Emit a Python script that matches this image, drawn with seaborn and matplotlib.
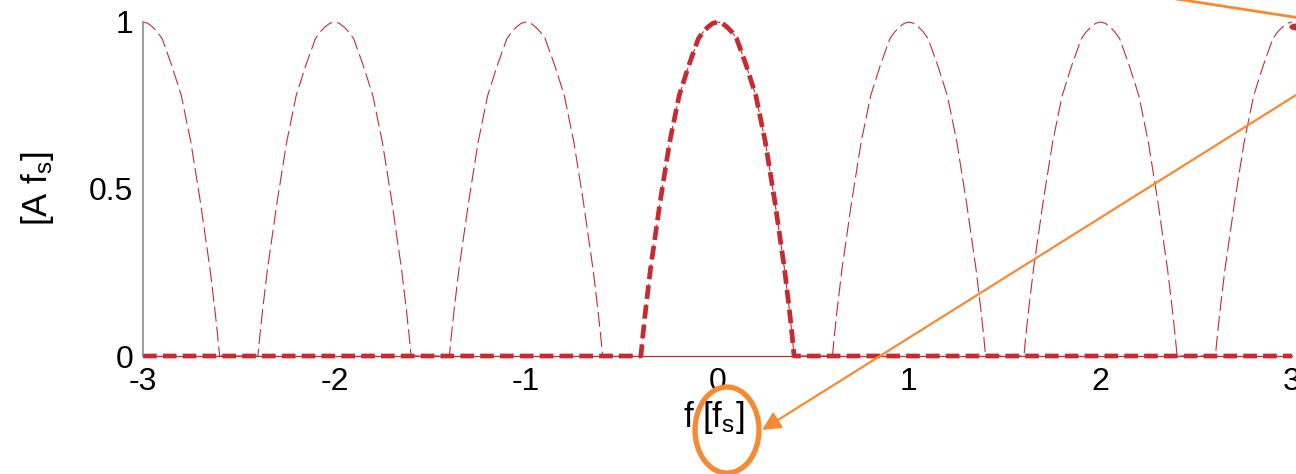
import matplotlib
matplotlib.use("Agg")
import matplotlib.pyplot as plt
from matplotlib.patches import Ellipse, Circle
import numpy as np
import pandas as pd
import seaborn as sns

# Half profile of one spectral lobe: distance from the lobe centre [f_s] and level [A f_s]
lobe_offset = [0.0, 0.025, 0.05, 0.075, 0.10, 0.15, 0.20, 0.25, 0.30, 0.35, 0.375, 0.39, 0.40]
lobe_level = [1.0, 0.996, 0.985, 0.97, 0.95, 0.87, 0.78, 0.64, 0.46, 0.26, 0.14, 0.06, 0.0]

# Centres of the periodic replicas of the sampled spectrum
replica_centres = [-3, -2, -1, 0, 1, 2, 3]
# Centre of the baseband lobe kept by the reconstruction filter
baseband_centre = 0

x_limits = [-3, 3]
x_ticks = [-3, -2, -1, 0, 1, 2, 3]
y_ticks = [0, 0.5, 1]
y_tick_labels = ["0", "0.5", "1"]


def lobe(centre):
    off = np.array(lobe_offset)
    lev = np.array(lobe_level)
    xs = np.concatenate([centre - off[::-1], centre + off[1:]])
    ys = np.concatenate([lev[::-1], lev[1:]])
    return xs, ys


# Periodic spectrum of the sampled signal
rep_x, rep_y = [], []
for c in replica_centres:
    xs, ys = lobe(c)
    keep = (xs >= x_limits[0]) & (xs <= x_limits[1])
    rep_x.extend(xs[keep])
    rep_y.extend(ys[keep])
replicas = pd.DataFrame({"f": rep_x, "A": rep_y})

# Baseband spectrum after ideal low-pass reconstruction
bx, by = lobe(baseband_centre)
base = pd.DataFrame({
    "f": np.concatenate([[x_limits[0]], bx, [x_limits[1]]]),
    "A": np.concatenate([[0.0], by, [0.0]]),
})

sns.set_theme(style="white")
plt.rcParams["font.family"] = ["Liberation Sans", "DejaVu Sans"]
plt.rcParams["mathtext.fontset"] = "custom"
plt.rcParams["mathtext.rm"] = "Liberation Sans"
plt.rcParams["mathtext.it"] = "Liberation Sans:italic"
plt.rcParams["mathtext.default"] = "regular"

fig = plt.figure(figsize=(12.96, 4.74), dpi=100)
ax = fig.add_axes([143 / 1296, 118 / 474, 1149 / 1296, 334 / 474])

red = "#c72b30"
orange = "#f58a32"

sns.lineplot(data=replicas, x="f", y="A", ax=ax, sort=False, estimator=None,
             color=red, lw=0.8, linestyle=(0, (13.5, 4.5)), clip_on=False)
sns.lineplot(data=base, x="f", y="A", ax=ax, sort=False, estimator=None,
             color=red, lw=3.4, linestyle=(0, (2.9, 1.3)), clip_on=False)

ax.set_xlim(*x_limits)
ax.set_ylim(0, 1)
ax.set_xticks(x_ticks)
ax.set_xticklabels([str(t) for t in x_ticks])
ax.set_yticks(y_ticks)
ax.set_yticklabels(y_tick_labels)
ax.tick_params(axis="both", direction="in", length=8, width=0.9, color="#262626",
               labelsize=23, labelcolor="black")
ax.tick_params(axis="x", pad=8)
ax.tick_params(axis="y", pad=7)

for side in ("top", "right"):
    ax.spines[side].set_visible(False)
ax.spines["left"].set_color("#808080")
ax.spines["left"].set_linewidth(1.1)
ax.spines["bottom"].set_color(red)
ax.spines["bottom"].set_linewidth(0.9)

ax.set_xlabel("f [f$_s$]", fontsize=25, color="black")
ax.set_ylabel("[A f$_s$]", fontsize=25, color="black")
ax.xaxis.set_label_coords(0.497, -0.13)
ax.yaxis.set_label_coords(-0.076, 0.5)

# Highlight of the unit in the axis label, with pointers from the side
fig.add_artist(Ellipse((727 / 1296, 1 - 430 / 474), 64 / 1296, 86 / 474,
                       transform=fig.transFigure, fill=False,
                       edgecolor=orange, lw=3.8))
ax.annotate("", xy=(762, 474 - 430), xycoords="figure pixels",
            xytext=(1320, 474 - 80), textcoords="figure pixels",
            arrowprops=dict(arrowstyle="-|>", color=orange, lw=1.6,
                            mutation_scale=28, shrinkA=0, shrinkB=0),
            annotation_clip=False)
ax.annotate("", xy=(1300, 474 - 18), xycoords="figure pixels",
            xytext=(1170, 474 + 2), textcoords="figure pixels",
            arrowprops=dict(arrowstyle="-", color=orange, lw=2.0,
                            shrinkA=0, shrinkB=0),
            annotation_clip=False)
fig.add_artist(Circle((1298 / 1296, 1 - 27 / 474), 8 / 1296,
                      transform=fig.transFigure, color=red, zorder=5))

fig.savefig("out.png", dpi=100)
